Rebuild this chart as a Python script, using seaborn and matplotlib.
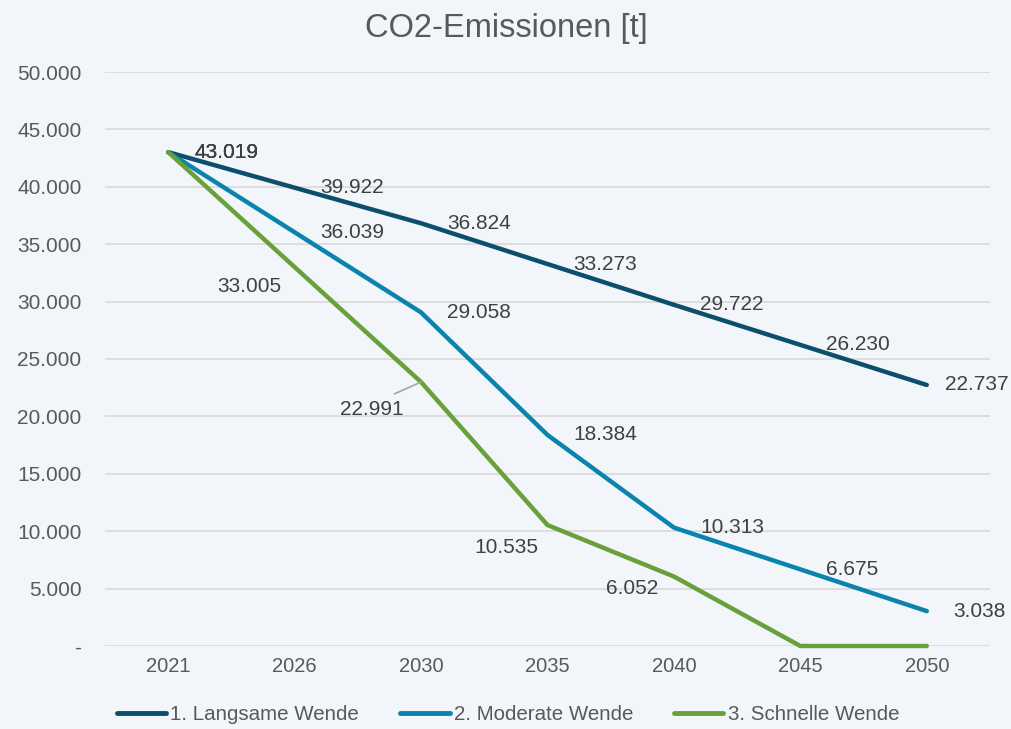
import pandas as pd
import numpy as np
import matplotlib
matplotlib.use("Agg")
import matplotlib.pyplot as plt
import seaborn as sns

# data
years = ["2021", "2026", "2030", "2035", "2040", "2045", "2050"]
langsam = [43019, 39922, 36824, 33273, 29722, 26230, 22737]
moderat = [43019, 36039, 29058, 18384, 10313, 6675, 3038]
schnell = [43019, 33005, 22991, 10535, 6052, 0, 0]
scenarios = ["1. Langsame Wende", "2. Moderate Wende", "3. Schnelle Wende"]
colors = ["#0B4F6C", "#0B84AD", "#68A03A"]

bg = "#F2F5F9"
txt = "#595959"
lbl = "#404040"
grid = "#D9D9D9"

sns.set_theme(style="white")
plt.rcParams["font.family"] = ["Liberation Sans", "DejaVu Sans"]

df = pd.DataFrame({
    "Jahr": years * 3,
    "Szenario": np.repeat(scenarios, len(years)),
    "t": langsam + moderat + schnell,
})


def de_fmt(v):
    if v == 0:
        return "-"
    return f"{v:,.0f}".replace(",", ".")


fig = plt.figure(figsize=(10.11, 7.29), dpi=100, facecolor=bg)
ax = fig.add_axes([105 / 1011, 1 - 646 / 729, 885 / 1011, 574 / 729])
ax.set_facecolor(bg)

sns.lineplot(data=df, x="Jahr", y="t", hue="Szenario", palette=colors,
             linewidth=3.2, sort=False, ax=ax, legend=True, clip_on=False,
             solid_capstyle="round")

ax.set_xlim(-0.5, len(years) - 0.5)
ax.set_ylim(0, 50000)
ax.set_yticks(np.arange(0, 50001, 5000))
ax.yaxis.set_major_formatter(plt.FuncFormatter(lambda v, p: de_fmt(v)))
ax.grid(axis="y", color=grid, linewidth=1.2)
ax.set_axisbelow(True)
for s in ax.spines.values():
    s.set_visible(False)
ax.tick_params(axis="y", length=0, pad=17, labelsize=15, labelcolor=txt)
ax.tick_params(axis="x", length=0, pad=8, labelsize=14.5, labelcolor=txt)
ax.set_xlabel("")
ax.set_ylabel("")

# data labels: first two series to the right of the point
for vals in [langsam, moderat]:
    for i, v in enumerate(vals):
        dx = 18 if (vals is langsam and i == len(vals) - 1) else 26
        ax.annotate(de_fmt(v), (i, v), xytext=(dx, 0), textcoords="offset pixels",
                    ha="left", va="center", fontsize=15, color=lbl)

# third series, labels placed below-left as in the original
offs = [(26, 0), (-45, -19), (-49, -27), (-41, -22), (-42, -12), None, None]
for i, v in enumerate(schnell):
    if offs[i] is None:
        continue
    dx, dy = offs[i]
    ha = "left" if dx > 0 else "center"
    ap = None
    if i == 2:
        ap = dict(arrowstyle="-", color="#A6A6A6", lw=1.2, shrinkA=0, shrinkB=0,
                  relpos=(0.85, 1.3))
    ax.annotate(de_fmt(v), (i, v), xytext=(dx, dy), textcoords="offset pixels",
                ha=ha, va="center", fontsize=15, color=lbl, arrowprops=ap)

fig.text(506 / 1011, 1 - 28 / 729, "CO2-Emissionen [t]", ha="center", va="center",
         fontsize=23.5, color=txt)

handles, labels = ax.get_legend_handles_labels()
ax.get_legend().remove()
leg = fig.legend(handles, labels, loc="center", bbox_to_anchor=(508 / 1011, 1 - 715 / 729),
                 ncol=3, frameon=False, fontsize=14.8, handlelength=2.4,
                 handletextpad=0.2, columnspacing=2.0, labelcolor=txt)
for h in leg.get_lines():
    h.set_linewidth(3.5)

fig.savefig("out.png", dpi=100, facecolor=bg)
